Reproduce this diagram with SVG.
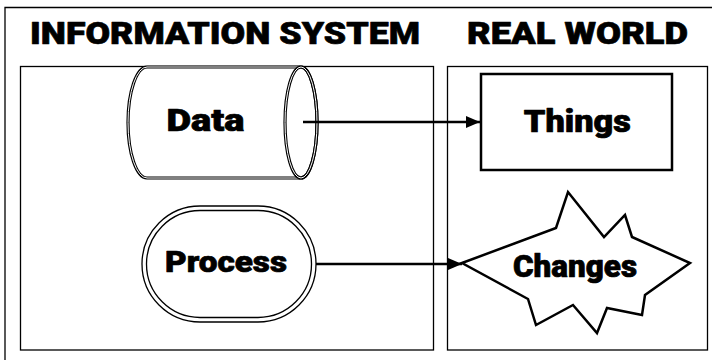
<svg xmlns="http://www.w3.org/2000/svg" width="712" height="360" viewBox="0 0 712 360">
<defs>
<style>
.t{font-family:"Roboto","Lato","DejaVu Sans",sans-serif;font-weight:900;fill:#000;stroke:#000;stroke-width:0.7;stroke-linejoin:round}
.panel{fill:#fff;stroke:#000;stroke-width:1.3}
.dbl{fill:none;stroke:#000;stroke-width:1.3}
.conn{stroke:#000;stroke-width:2.5;fill:none}
</style>
<marker id="ah" markerWidth="14" markerHeight="12" refX="14" refY="6" orient="auto" markerUnits="userSpaceOnUse">
<path d="M0,0 L14,6 L0,12 Z" fill="#000"/>
</marker>
</defs>
<rect width="712" height="360" fill="#fff"/>
<path d="M5,360 V7.5 H712" fill="none" stroke="#000" stroke-width="1.3"/>
<g id="title-is"><text class="t" x="225" y="44" font-size="32" text-anchor="middle" textLength="390" lengthAdjust="spacingAndGlyphs">INFORMATION SYSTEM</text></g>
<g id="title-rw"><text class="t" x="577.5" y="44" font-size="32" text-anchor="middle" textLength="221" lengthAdjust="spacingAndGlyphs">REAL WORLD</text></g>
<g id="panel-is"><rect class="panel" x="20.5" y="66.5" width="413" height="283.5"/></g>
<g id="panel-rw"><rect class="panel" x="447.5" y="66.5" width="260" height="283.5"/></g>
<g id="data">
<path d="M147,67 A19,55.5 0 0 0 147,178 H301 A16,55.5 0 0 0 301,67 Z" fill="#fff" stroke="#000" stroke-width="3.2"/>
<path d="M147,67 A19,55.5 0 0 0 147,178 H301 A16,55.5 0 0 0 301,67 Z" fill="none" stroke="#fff" stroke-width="1"/>
<ellipse cx="301" cy="122.5" rx="16" ry="55.5" fill="none" stroke="#000" stroke-width="3.2"/>
<ellipse cx="301" cy="122.5" rx="16" ry="55.5" fill="none" stroke="#fff" stroke-width="1"/>
<text class="t" x="205.5" y="130.5" font-size="31" text-anchor="middle" textLength="78" lengthAdjust="spacingAndGlyphs">Data</text>
</g>
<g id="process">
<rect x="142" y="206" width="174" height="116" rx="58" fill="#fff" stroke="#000" stroke-width="1.3"/>
<rect x="146.5" y="210.5" width="165" height="107" rx="53.5" class="dbl"/>
<text class="t" x="226" y="272" font-size="30" text-anchor="middle" textLength="122" lengthAdjust="spacingAndGlyphs">Process</text>
</g>
<g id="things">
<rect x="481" y="74" width="191" height="96" fill="#fff" stroke="#000" stroke-width="2.5"/>
<text class="t" x="577.3" y="132" font-size="31" text-anchor="middle" textLength="107" lengthAdjust="spacingAndGlyphs">Things</text>
</g>
<g id="changes">
<polygon points="462,263 556,228 568,192 604,237 625,215 632,237 690,263 645,295 642,315 607,308 597,333 573,305 536,325 528,299" fill="#fff" stroke="#000" stroke-width="2.5" stroke-linejoin="miter"/>
<text class="t" x="575" y="277" font-size="30.5" text-anchor="middle" textLength="124" lengthAdjust="spacingAndGlyphs">Changes</text>
</g>
<g id="connectors">
<line class="conn" x1="303" y1="122" x2="480" y2="122" marker-end="url(#ah)"/>
<line class="conn" x1="316" y1="264" x2="462" y2="264" marker-end="url(#ah)"/>
</g>
</svg>
